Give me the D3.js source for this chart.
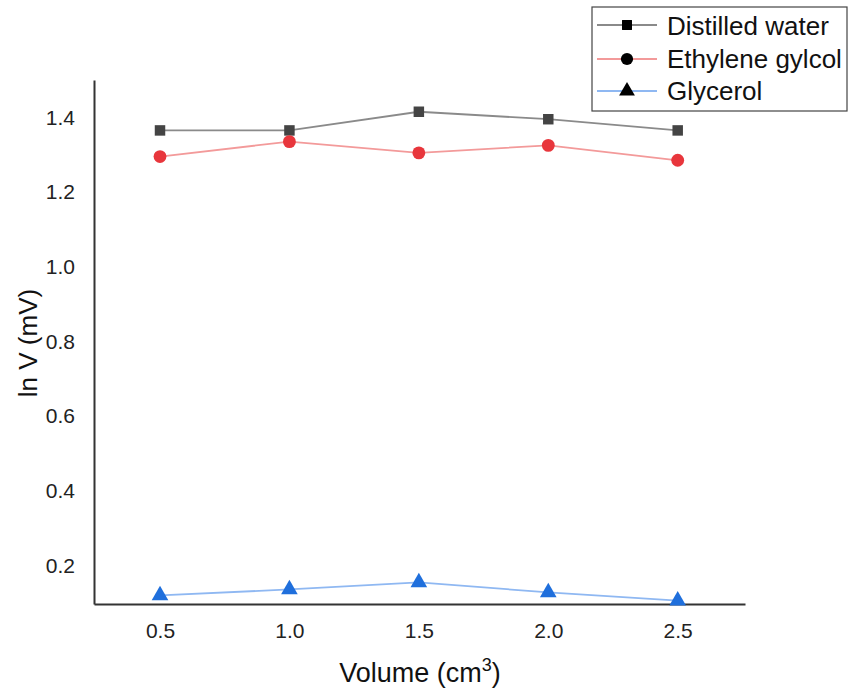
<!DOCTYPE html>
<html><head><meta charset="utf-8">
<script src="https://cdn.jsdelivr.net/npm/d3@7"></script>
<style>body{margin:0;background:#fff}text{font-family:"Liberation Sans",Arial,sans-serif}</style>
</head><body><svg id="c" width="850" height="693"></svg>
<script>
const volumes = [0.5, 1.0, 1.5, 2.0, 2.5];
const distilledWater = [1.365, 1.365, 1.415, 1.395, 1.365];
const ethyleneGlycol = [1.295, 1.335, 1.305, 1.325, 1.285];
const glycerol = [0.12, 0.136, 0.155, 0.128, 0.106];
const xTicks = [0.5, 1.0, 1.5, 2.0, 2.5];
const yTicks = [0.2, 0.4, 0.6, 0.8, 1.0, 1.2, 1.4];
const seriesNames = ["Distilled water", "Ethylene gylcol", "Glycerol"];

const svg = d3.select("#c");
const L = 94, R = 745, T = 80, B = 604;
const x = d3.scaleLinear().domain([0.245, 2.76]).range([L, R]);
const y = d3.scaleLinear().domain([0.097, 1.5]).range([B, T]);

const series = [
  {name: seriesNames[0], vals: distilledWater, line: "#8a8a8a", fill: "#444", sym: d3.symbolSquare, size: 110},
  {name: seriesNames[1], vals: ethyleneGlycol, line: "#f39a9a", fill: "#e8363c", sym: d3.symbolCircle, size: 130},
  {name: seriesNames[2], vals: glycerol, line: "#8fb8f2", fill: "#1f6fdc", sym: d3.symbolTriangle, size: 120}
];

// axes
const xa = svg.append("g").attr("transform", `translate(0,${B})`)
  .call(d3.axisBottom(x).tickValues(xTicks).tickFormat(d3.format(".1f")).tickSize(0).tickPadding(19));
xa.select(".domain").attr("stroke", "#333").attr("stroke-width", 2);
xa.selectAll("text").attr("font-size", 21).attr("fill", "#222");

const ya = svg.append("g").attr("transform", `translate(${L},0)`)
  .call(d3.axisLeft(y).tickValues(yTicks).tickFormat(d3.format(".1f")).tickSize(0).tickPadding(19));
ya.select(".domain").attr("stroke", "#333").attr("stroke-width", 2);
ya.selectAll("text").attr("font-size", 21).attr("fill", "#222");

// lines and markers
const line = d3.line().x((d, i) => x(volumes[i])).y(d => y(d));
series.forEach(s => {
  svg.append("path").attr("d", line(s.vals)).attr("fill", "none")
    .attr("stroke", s.line).attr("stroke-width", 1.8);
  svg.selectAll(null).data(s.vals).enter().append("path")
    .attr("d", d3.symbol().type(s.sym).size(s.size))
    .attr("transform", (d, i) => `translate(${x(volumes[i])},${y(d)})`)
    .attr("fill", s.fill);
});

// axis titles
const xt = svg.append("text").attr("x", 420).attr("y", 682).attr("text-anchor", "middle")
  .attr("font-size", 27).attr("fill", "#111");
xt.append("tspan").text("Volume (cm");
xt.append("tspan").text("3").attr("font-size", 18).attr("dy", -11);
xt.append("tspan").text(")").attr("dy", 11);

svg.append("text").attr("transform", "translate(37,343) rotate(-90)").attr("text-anchor", "middle")
  .attr("font-size", 26).attr("fill", "#111").text("ln V (mV)");

// legend
const lg = svg.append("g");
lg.append("rect").attr("x", 592).attr("y", 7).attr("width", 255).attr("height", 104)
  .attr("fill", "#fff").attr("stroke", "#444").attr("stroke-width", 1.2);
const rowY = [25, 59, 91];
const baseY = [35, 68, 100];
series.forEach((s, i) => {
  const cy = rowY[i];
  lg.append("line").attr("x1", 597).attr("x2", 657).attr("y1", cy).attr("y2", cy)
    .attr("stroke", s.line).attr("stroke-width", 1.8);
  lg.append("path").attr("d", d3.symbol().type(s.sym).size(s.size * 0.9))
    .attr("transform", `translate(627,${cy})`).attr("fill", "#000");
  lg.append("text").attr("x", 667).attr("y", baseY[i]).attr("font-size", 26).attr("fill", "#111").text(s.name);
});
</script></body></html>
